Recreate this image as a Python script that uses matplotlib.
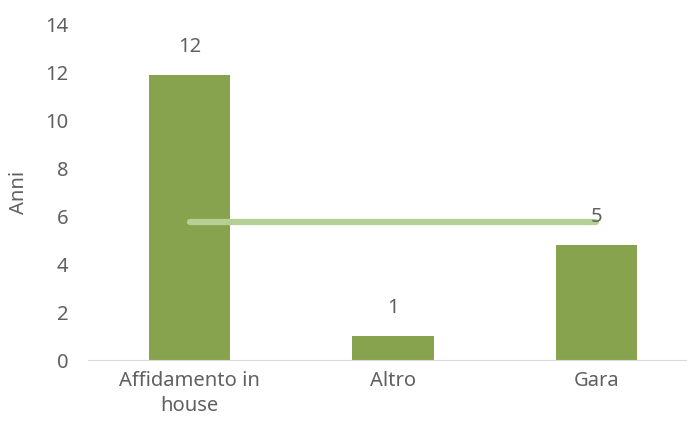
import matplotlib.pyplot as plt

plt.rcParams['font.family'] = ['Noto Sans', 'DejaVu Sans']

categorie = ["Affidamento in\nhouse", "Altro", "Gara"]
anni = [11.9, 1.0, 4.8]
etichette = ["12", "1", "5"]
media = [5.75, 5.75, 5.75]

verde = "#88a34d"
verde_chiaro = "#b6cf95"
grigio = "#606060"
fs = 14.5

fig = plt.figure(figsize=(6.87, 4.28), dpi=100)
ax = fig.add_axes([88 / 687, 68 / 428, 599 / 687, 335 / 428])

x = range(len(categorie))
ax.bar(x, anni, width=0.4, color=verde, zorder=2)
ax.plot(x, media, color=verde_chiaro, linewidth=4.5, solid_capstyle="round", zorder=3)

for xi, v, t in zip(x, anni, etichette):
    ax.annotate(t, (xi, v), xytext=(0, 20), textcoords="offset points",
                ha="center", va="center", fontsize=fs, color=grigio, zorder=4)

ax.set_xlim(-0.5, 2.445)
ax.set_ylim(0, 14)
ax.set_yticks(range(0, 15, 2))
ax.set_xticks(list(x))
ax.set_xticklabels(categorie, fontsize=fs, color=grigio, linespacing=1.3)
ax.tick_params(axis="y", labelsize=fs, labelcolor=grigio, length=0, pad=14)
ax.tick_params(axis="x", length=0, pad=8)
ax.set_ylabel("Anni", fontsize=fs, color=grigio, labelpad=12)

for s in ["top", "right", "left"]:
    ax.spines[s].set_visible(False)
ax.spines["bottom"].set_color("#d9d9d9")

fig.savefig("out.png", dpi=100)
